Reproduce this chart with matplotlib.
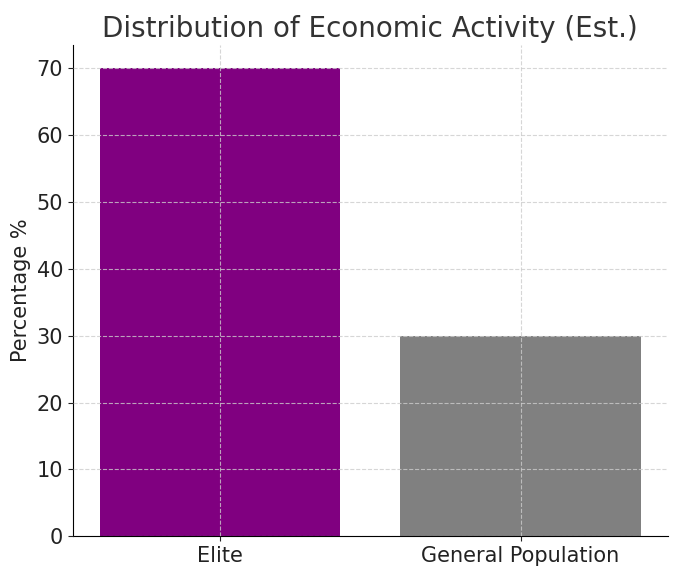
import matplotlib
matplotlib.use("Agg")
import matplotlib.pyplot as plt

categories = ['Elite', 'General Population']
values = [70, 30]
colors = ['purple', 'grey']

fig = plt.figure(figsize=(6.8, 5.76), dpi=100)
ax = fig.add_axes([0.107, 0.069, 0.875, 0.853])

ax.bar(categories, values, color=colors, width=0.8, zorder=1)
ax.set_title('Distribution of Economic Activity (Est.)', fontsize=20, color='#333333')
ax.set_ylabel('Percentage %', fontsize=15, color='#222222')
ax.tick_params(labelsize=15, colors='#222222')
ax.grid(True, linestyle='--', color='#cccccc', linewidth=0.8, alpha=0.8, zorder=2)
ax.set_axisbelow(False)
ax.spines['top'].set_visible(False)
ax.spines['right'].set_visible(False)

fig.savefig('out.png', dpi=100)
